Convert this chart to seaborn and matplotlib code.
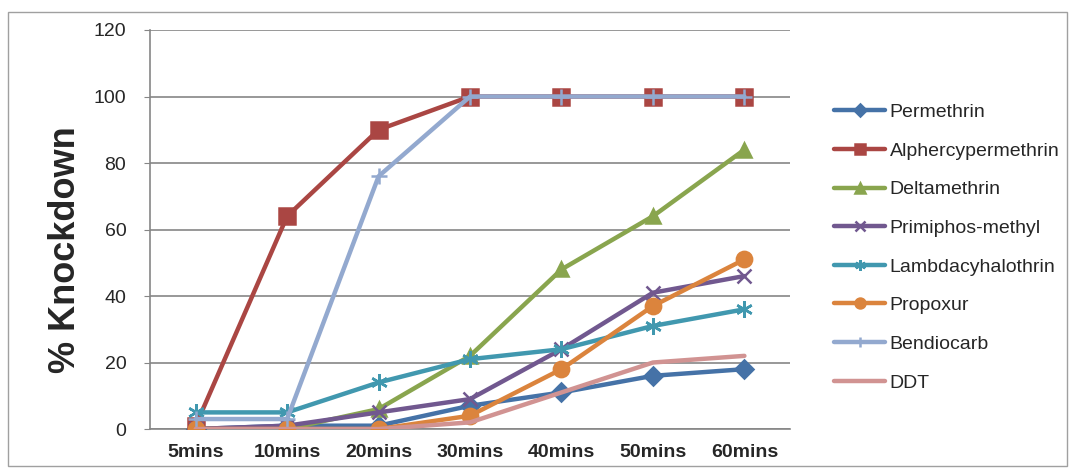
import matplotlib
matplotlib.use("Agg")
import matplotlib.pyplot as plt
import seaborn as sns
import pandas as pd
from matplotlib.patches import Rectangle

times = ["5mins", "10mins", "20mins", "30mins", "40mins", "50mins", "60mins"]

permethrin = [0, 1, 1, 7, 11, 16, 18]
alphercypermethrin = [1, 64, 90, 100, 100, 100, 100]
deltamethrin = [0, 0, 6, 22, 48, 64, 84]
primiphos_methyl = [0, 1, 5, 9, 24, 41, 46]
lambdacyhalothrin = [5, 5, 14, 21, 24, 31, 36]
propoxur = [0, 0, 0, 4, 18, 37, 51]
bendiocarb = [3, 3, 76, 100, 100, 100, 100]
ddt = [0, 0, 0, 2, 11, 20, 22]

series = {
    "Permethrin": permethrin,
    "Alphercypermethrin": alphercypermethrin,
    "Deltamethrin": deltamethrin,
    "Primiphos-methyl": primiphos_methyl,
    "Lambdacyhalothrin": lambdacyhalothrin,
    "Propoxur": propoxur,
    "Bendiocarb": bendiocarb,
    "DDT": ddt,
}

colors = ["#4572A7", "#AA4643", "#89A54E", "#71588F", "#4198AF", "#DB843D", "#93A9CF", "#D19392"]
markers = ["D", "s", "^", "x", (6, 2, 0), "o", "+", None]
msizes = [9, 11, 10, 10, 12, 11, 12, 0]

sns.set_style("white")
plt.rcParams["font.family"] = ["Liberation Sans", "DejaVu Sans"]

fig = plt.figure(figsize=(10.75, 4.68), dpi=100)
ax = fig.add_axes([0.1395, 0.0833, 0.5955, 0.8526])

rows = []
for name, vals in series.items():
    for t, v in zip(times, vals):
        rows.append({"time": t, "value": v, "series": name})
df = pd.DataFrame(rows)
df["pos"] = df["time"].map({t: i for i, t in enumerate(times)})

for i, name in enumerate(series):
    sub = df[df["series"] == name]
    sns.lineplot(data=sub, x="pos", y="value", ax=ax, color=colors[i], lw=3.2,
                 marker=markers[i], markersize=msizes[i], markeredgewidth=1.8,
                 markeredgecolor=colors[i], label=name, zorder=3 + i)

ax.set_xlim(-0.5, len(times) - 0.5)
ax.set_ylim(0, 120)
ax.set_yticks(range(0, 121, 20))
ax.set_xticks(range(len(times)))
ax.set_xticklabels(times, fontsize=14, fontweight="bold")
ax.tick_params(axis="y", labelsize=14, length=4, color="#868686", direction="out", left=True, pad=13)
ax.tick_params(axis="x", length=0, pad=11)
ax.grid(axis="y", color="#868686", lw=1.2)
ax.set_axisbelow(True)
for s in ["top", "right"]:
    ax.spines[s].set_visible(False)
for s in ["left", "bottom"]:
    ax.spines[s].set_color("#868686")
    ax.spines[s].set_linewidth(1.2)
ax.set_xlabel("")
ax.set_ylabel("% Knockdown", fontsize=26, fontweight="bold")
ax.yaxis.set_label_coords(-0.104, 0.45)

leg = ax.legend(loc="upper left", bbox_to_anchor=(1.057, 0.835), frameon=False,
                fontsize=14, handlelength=2.6, labelspacing=1.08, handletextpad=0.25,
                borderaxespad=0, markerscale=0.65)

fig.patches.append(Rectangle((8 / 1075, 2 / 468), 1059 / 1075, 454 / 468,
                             transform=fig.transFigure, fill=False,
                             edgecolor="#a0a0a0", lw=1))

fig.savefig("out.png", dpi=100)
